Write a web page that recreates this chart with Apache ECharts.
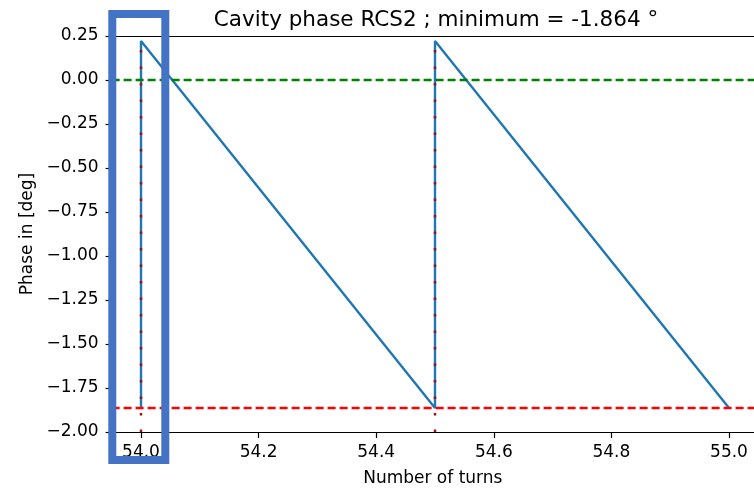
<!DOCTYPE html>
<html>
<head>
<meta charset="utf-8">
<script src="https://cdn.jsdelivr.net/npm/echarts@6/dist/echarts.min.js"></script>
<style>
	html, body { margin: 0; padding: 0; background: #fff; }
	#phase { width: 754px; height: 489px; }
</style>
</head>
<body>
<div id="phase"></div>
<script>
// sawtooth of the cavity phase over the turns
const turns = [54.0, 54.0, 54.5, 54.5, 55.0];
const phase = [-1.864, 0.222, -1.864, 0.222, -1.864];
// red dotted markers at the start of each turn
const markerTurns = [54.0, 54.5];
const phaseMin = -1.864;
const phaseTop = 0.222;
const phaseZero = 0.0;
const xTicks = [54.0, 54.2, 54.4, 54.6, 54.8, 55.0];
const yMin = -2.0;
const yMax = 0.25;

function makeChart() {
	var chartDom = document.getElementById('phase');
	var myChart = echarts.init(chartDom);
	var font = 'DejaVu Sans';
	var option;

	var markerSeries = markerTurns.map(function (t) {
		return {
			type : 'line',
			data : [ [ t, yMin ], [ t, phaseTop ] ],
			symbol : 'none',
			silent : true,
			z : 5,
			lineStyle : {
				color : '#a01010',
				width : 2.5,
				type : [ 2.5, 14 ]
			}
		};
	});

	var hLine = function (value, color) {
		return {
			type : 'line',
			data : [],
			symbol : 'none',
			silent : true,
			z : 3,
			markLine : {
				silent : true,
				symbol : 'none',
				animation : false,
				label : { show : false },
				lineStyle : { color : color, width : 2.3, type : [ 8, 4 ] },
				data : [ { yAxis : value } ]
			}
		};
	};

	option = {
		animation : false,
		title : {
			text : 'Cavity phase RCS2 ; minimum = -1.864 °',
			left : 431,
			top : 4,
			textAlign : 'center',
			textStyle : {
				fontFamily : font,
				fontSize : 21.5,
				fontWeight : 'normal',
				color : '#000'
			}
		},
		grid : {
			left : 111.6,
			top : 36,
			right : 0,
			bottom : 57,
			outerBoundsMode : 'none'
		},
		xAxis : [ {
			type : 'value',
			min : 53.95,
			max : 55.0425,
			name : 'Number of turns',
			nameLocation : 'middle',
			nameGap : 38,
			nameTextStyle : { fontFamily : font, fontSize : 17, color : '#000' },
			splitLine : { show : false },
			axisLine : { show : true, onZero : false, lineStyle : { color : '#000', width : 1.2 } },
			axisTick : {
				show : true,
				length : 6,
				customValues : xTicks,
				lineStyle : { color : '#000', width : 1.2 }
			},
			axisLabel : {
				customValues : xTicks,
				margin : 12,
				fontFamily : font,
				fontSize : 17,
				color : '#000',
				formatter : function (v) { return v.toFixed(1); }
			}
		}, {
			type : 'value',
			position : 'top',
			min : 53.95,
			max : 55.0425,
			splitLine : { show : false },
			axisLine : { show : true, onZero : false, lineStyle : { color : '#000', width : 1.2 } },
			axisTick : { show : false },
			axisLabel : { show : false }
		} ],
		yAxis : {
			type : 'value',
			min : yMin,
			max : yMax,
			interval : 0.25,
			name : 'Phase in [deg]',
			nameLocation : 'middle',
			nameGap : 76,
			nameTextStyle : { fontFamily : font, fontSize : 17, color : '#000' },
			splitLine : { show : false },
			axisLine : { show : true, onZero : false, lineStyle : { color : '#000', width : 1.2 } },
			axisTick : { show : true, length : 6, lineStyle : { color : '#000', width : 1.2 } },
			axisLabel : {
				margin : 13,
				fontFamily : font,
				fontSize : 17,
				color : '#000',
				formatter : function (v) { return v.toFixed(2).replace('-', '\u2212'); }
			}
		},
		series : [ {
			name : 'phase',
			type : 'line',
			data : turns.map(function (t, i) { return [ t, phase[i] ]; }),
			symbol : 'none',
			z : 4,
			lineStyle : { color : '#1f77b4', width : 2.4 }
		}, hLine(phaseZero, '#008000'), hLine(phaseMin, '#ff0000') ].concat(markerSeries),
		graphic : [ {
			type : 'rect',
			z : 100,
			shape : { x : 112.3, y : 14, width : 53, height : 446 },
			style : { fill : 'none', stroke : '#4472c4', lineWidth : 8 }
		} ]
	};

	option && myChart.setOption(option);
}

makeChart();
</script>
</body>
</html>
